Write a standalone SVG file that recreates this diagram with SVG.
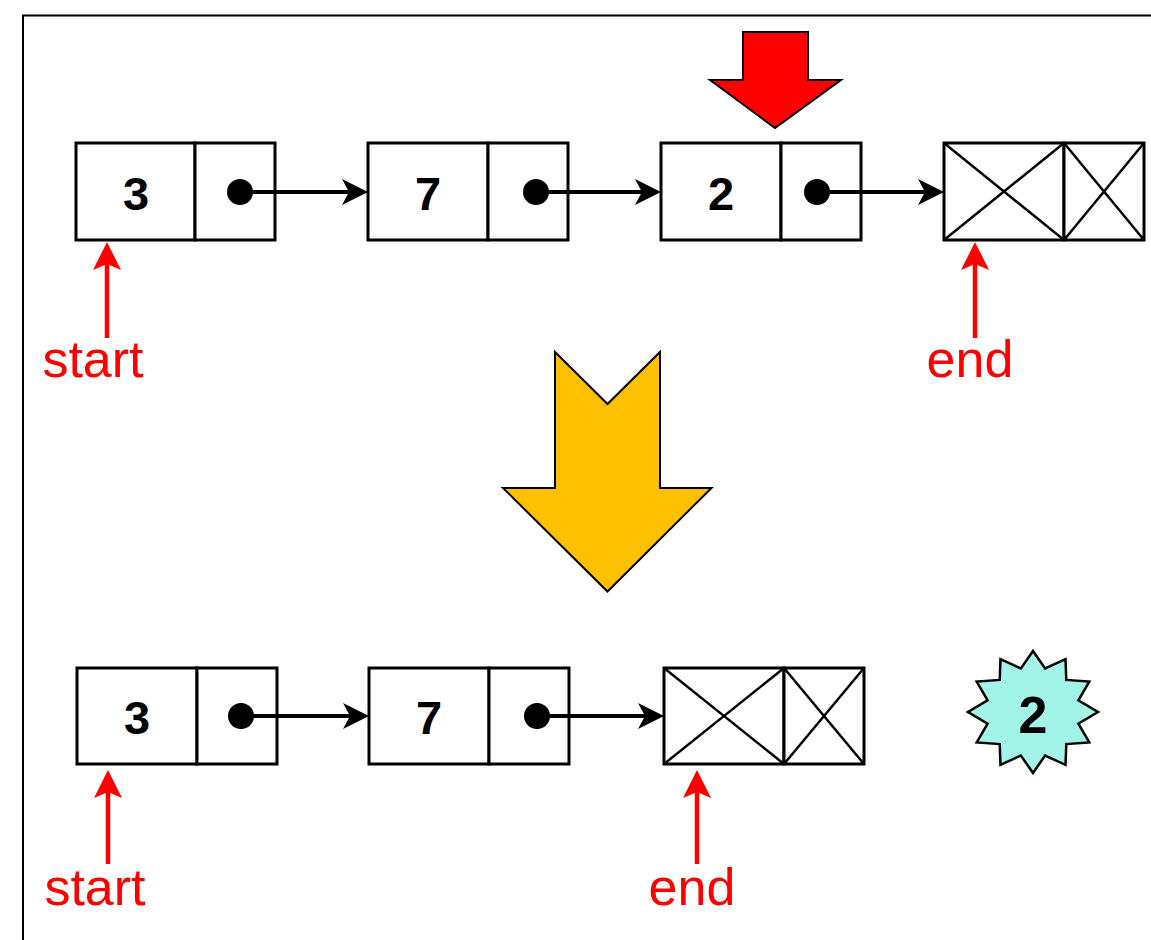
<svg xmlns="http://www.w3.org/2000/svg" width="1151" height="940" viewBox="0 0 1151 940">
  <style>
    .cell { fill: #ffffff; stroke: #000000; stroke-width: 3; }
    .cross { fill: none; stroke: #000000; stroke-width: 2.5; }
    .val { font-family: "Liberation Sans", Arial, sans-serif; font-weight: bold; font-size: 47px; fill: #000000; text-anchor: middle; }
    .dot { fill: #000000; }
    .link { stroke: #000000; stroke-width: 4; fill: none; }
    .ptr { stroke: #ff0000; stroke-width: 4.5; fill: none; }
    .lbl { font-family: "Liberation Sans", Arial, sans-serif; font-size: 52px; fill: #ff0000; text-anchor: middle; }
  </style>
  <defs>
    <marker id="head" markerUnits="userSpaceOnUse" viewBox="0 0 26 26" refX="20" refY="13" markerWidth="26" markerHeight="26" orient="auto">
      <path d="M0,0 L26,13 L0,26 L7,13 Z" fill="#000000"/>
    </marker>
    <marker id="redhead" markerUnits="userSpaceOnUse" viewBox="0 0 28 28" refX="22" refY="14" markerWidth="28" markerHeight="28" orient="auto">
      <path d="M0,0 L28,14 L0,28 L6,14 Z" fill="#ff0000"/>
    </marker>
  </defs>

  <rect width="1151" height="940" fill="#ffffff"/>
  <!-- frame -->
  <rect x="23" y="15.5" width="1160" height="960" fill="none" stroke="#000000" stroke-width="2"/>

  <!-- before: list 3 -> 7 -> 2 -> null -->
  <g id="top-node-3">
    <rect class="cell" x="76" y="143" width="119" height="97"/>
    <rect class="cell" x="195" y="143" width="80" height="97"/>
    <text class="val" x="136" y="210">3</text>
    <circle class="dot" cx="240" cy="192" r="13"/>
  </g>
  <g id="top-node-7">
    <rect class="cell" x="368" y="143" width="120" height="97"/>
    <rect class="cell" x="488" y="143" width="80" height="97"/>
    <text class="val" x="428" y="210">7</text>
    <circle class="dot" cx="536" cy="192" r="13"/>
  </g>
  <g id="top-node-2">
    <rect class="cell" x="661" y="143" width="120" height="97"/>
    <rect class="cell" x="781" y="143" width="80" height="97"/>
    <text class="val" x="721" y="210">2</text>
    <circle class="dot" cx="817" cy="192" r="13"/>
  </g>
  <g id="top-null">
    <rect class="cell" x="944" y="143" width="120" height="97"/>
    <rect class="cell" x="1064" y="143" width="80" height="97"/>
    <path class="cross" d="M944,143 L1064,240 M944,240 L1064,143 M1064,143 L1144,240 M1064,240 L1144,143"/>
  </g>

  <!-- removal marker above node 2 -->
  <g id="remove-arrow">
    <path d="M743,32 L808,32 L808,80 L841,80 L775,128 L710,80 L743,80 Z" fill="#ff0000" stroke="#000000" stroke-width="2"/>
  </g>

  <!-- transition -->
  <g id="step-arrow">
    <path d="M555,352 L607.5,404 L660,352 L660,488 L711.5,488 L607.5,591.5 L503,488 L555,488 Z" fill="#ffc000" stroke="#000000" stroke-width="2"/>
  </g>

  <!-- after: list 3 -> 7 -> null -->
  <g id="bottom-node-3">
    <rect class="cell" x="77" y="668" width="120" height="96"/>
    <rect class="cell" x="197" y="668" width="80" height="96"/>
    <text class="val" x="137" y="734">3</text>
    <circle class="dot" cx="241" cy="716" r="13"/>
  </g>
  <g id="bottom-node-7">
    <rect class="cell" x="369" y="668" width="120" height="96"/>
    <rect class="cell" x="489" y="668" width="80" height="96"/>
    <text class="val" x="429" y="734">7</text>
    <circle class="dot" cx="537" cy="716" r="13"/>
  </g>
  <g id="bottom-null">
    <rect class="cell" x="664" y="668" width="120" height="96"/>
    <rect class="cell" x="784" y="668" width="80" height="96"/>
    <path class="cross" d="M664,668 L784,764 M664,764 L784,668 M784,668 L864,764 M784,764 L864,668"/>
  </g>

  <!-- removed value -->
  <g id="removed-value">
    <path d="M1098,712 L1078.4,723.6 L1089.3,742.5 L1066.3,744.1 L1065.5,764.8 L1045.1,755.5 L1033,773 L1020.9,755.5 L1000.5,764.8 L999.7,744.1 L976.7,742.5 L987.6,723.6 L968,712 L987.6,700.4 L976.7,681.5 L999.7,679.9 L1000.5,659.2 L1020.9,668.5 L1033,651 L1045.1,668.5 L1065.5,659.2 L1066.3,679.9 L1089.3,681.5 L1078.4,700.4 Z" fill="#a2f4e8" stroke="#000000" stroke-width="2.5" stroke-linejoin="miter"/>
    <text class="val" x="1033" y="733" style="font-size:52px">2</text>
  </g>

  <g id="connectors">
    <line class="link" x1="240" y1="192" x2="362" y2="192" marker-end="url(#head)"/>
    <line class="link" x1="536" y1="192" x2="655" y2="192" marker-end="url(#head)"/>
    <line class="link" x1="817" y1="192" x2="938" y2="192" marker-end="url(#head)"/>
    <line class="link" x1="241" y1="716" x2="363" y2="716" marker-end="url(#head)"/>
    <line class="link" x1="537" y1="716" x2="658" y2="716" marker-end="url(#head)"/>

    <line class="ptr" x1="107" y1="338" x2="107" y2="248" marker-end="url(#redhead)"/>
    <line class="ptr" x1="975" y1="338" x2="975" y2="248" marker-end="url(#redhead)"/>
    <line class="ptr" x1="108" y1="864" x2="108" y2="776" marker-end="url(#redhead)"/>
    <line class="ptr" x1="697" y1="864" x2="697" y2="776" marker-end="url(#redhead)"/>
  </g>

  <g id="labels">
    <text class="lbl" x="93" y="377">start</text>
    <text class="lbl" x="970" y="377">end</text>
    <text class="lbl" x="95" y="905">start</text>
    <text class="lbl" x="692" y="905">end</text>
  </g>
</svg>
